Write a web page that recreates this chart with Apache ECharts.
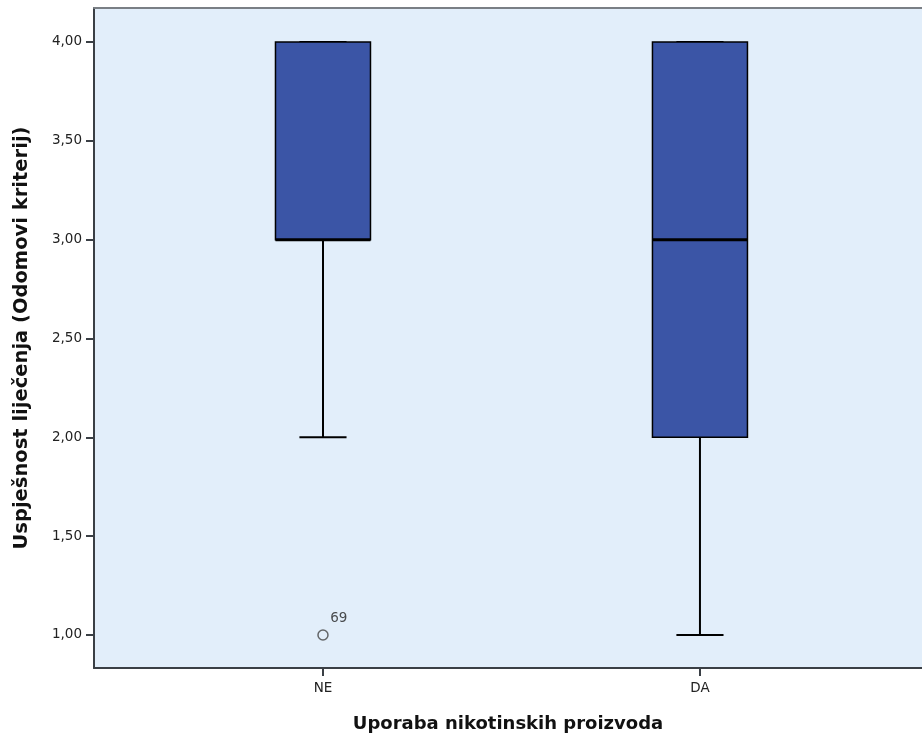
<!DOCTYPE html>
<html>
<head>
<meta charset="utf-8">
<script src="https://cdn.jsdelivr.net/npm/echarts@6/dist/echarts.min.js"></script>
<style>html,body{margin:0;padding:0;background:#fff}#c{width:922px;height:738px}</style>
</head>
<body>
<div id="c"></div>
<script>
var categories = ['NE', 'DA'];
var minVals = [2, 1];
var q1Vals = [3, 2];
var medianVals = [3, 3];
var q3Vals = [4, 4];
var maxVals = [4, 4];
var outlierCat = [0];
var outlierVal = [1];
var outlierLabel = ['69'];
var yTicks = [1, 1.5, 2, 2.5, 3, 3.5, 4];

var boxData = categories.map(function (c, i) {
  return [i + 1, minVals[i], q1Vals[i], medianVals[i], q3Vals[i], maxVals[i]];
});
var outData = outlierCat.map(function (ci, k) {
  return { value: [ci + 1, outlierVal[k]], label: outlierLabel[k] };
});

var FONT = 'DejaVu Sans, Arial, sans-serif';
var chart = echarts.init(document.getElementById('c'));
chart.setOption({
  animation: false,
  grid: { left: 94, right: 0, top: 8, bottom: 70, show: true, backgroundColor: '#e2eefa', borderWidth: 0 },
  xAxis: [{
    type: 'value', min: 0.3926, max: 2.589,
    splitLine: { show: false },
    axisLine: { show: true, onZero: false, lineStyle: { color: '#3a3f45', width: 2 } },
    axisTick: { show: true, customValues: [1, 2], length: 8, lineStyle: { color: '#3a3f45', width: 2 } },
    axisLabel: { customValues: [1, 2], formatter: function (v) { return categories[Math.round(v) - 1] || ''; },
      color: '#222', fontFamily: FONT, fontSize: 13.5, margin: 13 },
    name: 'Uporaba nikotinskih proizvoda', nameLocation: 'middle', nameGap: 47,
    nameTextStyle: { fontFamily: FONT, fontWeight: 'bold', fontSize: 18, color: '#111' }
  }, {
    type: 'value', position: 'top', min: 0.3926, max: 2.589,
    splitLine: { show: false }, axisTick: { show: false }, axisLabel: { show: false },
    axisLine: { show: true, onZero: false, lineStyle: { color: '#7a7f85', width: 2 } }
  }],
  yAxis: {
    type: 'value', min: 0.833, max: 4.172,
    splitLine: { show: false },
    axisLine: { show: true, onZero: false, lineStyle: { color: '#3a3f45', width: 2 } },
    axisTick: { show: true, customValues: yTicks, length: 8, lineStyle: { color: '#3a3f45', width: 2 } },
    axisLabel: { customValues: yTicks, formatter: function (v) { return v.toFixed(2).replace('.', ','); },
      color: '#222', fontFamily: FONT, fontSize: 13.5, margin: 12 },
    name: 'Uspješnost liječenja (Odomovi kriterij)', nameLocation: 'middle', nameGap: 62,
    nameTextStyle: { fontFamily: FONT, fontWeight: 'bold', fontSize: 19.5, color: '#111' }
  },
  series: [{
    type: 'custom',
    data: boxData,
    encode: { x: 0, y: [1, 2, 3, 4, 5] },
    renderItem: function (params, api) {
      var x = api.value(0);
      var pMin = api.coord([x, api.value(1)]);
      var pQ1 = api.coord([x, api.value(2)]);
      var pMed = api.coord([x, api.value(3)]);
      var pQ3 = api.coord([x, api.value(4)]);
      var pMax = api.coord([x, api.value(5)]);
      var halfBox = api.size([0.126, 0])[0];
      var halfCap = api.size([0.0625, 0])[0];
      var cx = pMed[0];
      var black = '#000';
      var children = [];
      children.push({ type: 'line', shape: { x1: cx, y1: pMin[1], x2: cx, y2: pQ1[1] }, style: { stroke: black, lineWidth: 2 } });
      children.push({ type: 'line', shape: { x1: cx, y1: pQ3[1], x2: cx, y2: pMax[1] }, style: { stroke: black, lineWidth: 2 } });
      children.push({ type: 'line', shape: { x1: cx - halfCap, y1: pMin[1], x2: cx + halfCap, y2: pMin[1] }, style: { stroke: black, lineWidth: 2 } });
      children.push({ type: 'line', shape: { x1: cx - halfCap, y1: pMax[1], x2: cx + halfCap, y2: pMax[1] }, style: { stroke: black, lineWidth: 2 } });
      children.push({ type: 'rect', shape: { x: cx - halfBox, y: pQ3[1], width: halfBox * 2, height: pQ1[1] - pQ3[1] },
        style: { fill: '#3b55a6', stroke: black, lineWidth: 1.5 } });
      children.push({ type: 'line', shape: { x1: cx - halfBox, y1: pMed[1], x2: cx + halfBox, y2: pMed[1] }, style: { stroke: black, lineWidth: 3 } });
      return { type: 'group', children: children };
    }
  }, {
    type: 'scatter',
    data: outData,
    symbol: 'circle', symbolSize: 10,
    itemStyle: { color: 'rgba(0,0,0,0)', borderColor: '#444', borderWidth: 1.5 },
    label: { show: true, position: [13, -18], formatter: function (p) { return p.data.label; },
      fontFamily: FONT, fontSize: 13.5, color: '#222' }
  }]
});
</script>
</body>
</html>
